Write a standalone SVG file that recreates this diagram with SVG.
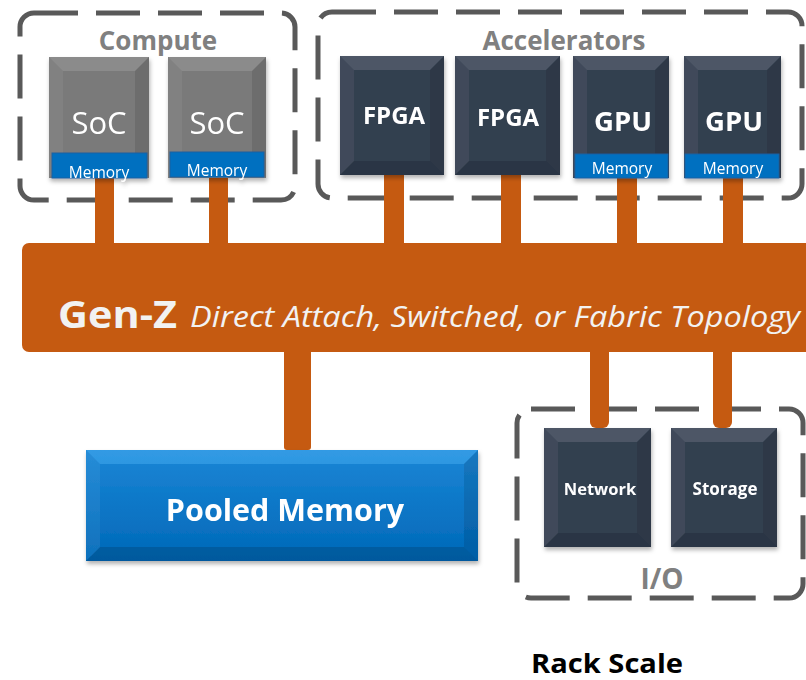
<svg xmlns="http://www.w3.org/2000/svg" width="806" height="680" viewBox="0 0 806 680">
<style>
.box{fill:none;stroke:#595959;stroke-width:5;stroke-dasharray:44 18}
.grp{font-family:"Open Sans","Liberation Sans",sans-serif;font-weight:bold;fill:#808080;text-anchor:middle}
.lbl{font-family:"Open Sans","Liberation Sans",sans-serif;fill:#fff;text-anchor:middle}
.b{font-weight:bold}
.dark{fill:#333f50}
.gray{fill:#7a7a7a}
.mem{fill:#0070c0;stroke:#1f5f9f;stroke-width:1}
.bev-t{fill:#fff;opacity:0.13}
.bev-l{fill:#fff;opacity:0.06}
.bev-r{fill:#000;opacity:0.1}
.bev-b{fill:#000;opacity:0.14}
.wire{fill:#c55a11}
</style>
<defs>
<filter id="sh" x="-10%" y="-10%" width="130%" height="130%">
<feDropShadow dx="1" dy="3" stdDeviation="2" flood-color="#000" flood-opacity="0.3"/>
</filter>
<linearGradient id="pool" x1="0" y1="0" x2="0" y2="1">
<stop offset="0" stop-color="#1a86d6"/>
<stop offset="1" stop-color="#0068b8"/>
</linearGradient>
</defs>

<g id="compute-group">
<rect class="box" x="20" y="13" width="275" height="187" rx="14"/>
<text class="grp" x="158" y="50" font-size="26">Compute</text>
</g>
<g id="accelerators-group">
<rect class="box" x="318" y="12" width="484" height="186" rx="14"/>
<text class="grp" x="564" y="50" font-size="26">Accelerators</text>
</g>
<g id="io-group">
<rect class="box" x="517" y="409" width="286" height="189" rx="14"/>
<text class="grp" x="662" y="589" font-size="28">I/O</text>
</g>

<g id="connectors">
<rect class="wire" x="95" y="170" width="19" height="80"/>
<rect class="wire" x="209" y="170" width="19" height="80"/>
<rect class="wire" x="384" y="169" width="20" height="80" rx="6"/>
<rect class="wire" x="501" y="169" width="20" height="80" rx="6"/>
<rect class="wire" x="617" y="170" width="20" height="80"/>
<rect class="wire" x="723" y="170" width="20" height="80"/>
<rect class="wire" x="284" y="345" width="27" height="105" rx="3"/>
<rect class="wire" x="590" y="345" width="19" height="83" rx="6"/>
<rect class="wire" x="713" y="345" width="19" height="83" rx="6"/>
</g>

<g id="genz-bus">
<rect class="wire" x="22" y="243" width="800" height="109" rx="7"/>
<text x="58" y="328" font-family="'Open Sans','Liberation Sans',sans-serif" fill="#f2f2f2" font-weight="bold" font-size="38" textLength="119" lengthAdjust="spacingAndGlyphs">Gen-Z</text>
<text x="190" y="327" font-family="'Open Sans','Liberation Sans',sans-serif" fill="#f2f2f2" font-style="italic" font-size="30" textLength="610" lengthAdjust="spacingAndGlyphs">Direct Attach, Switched, or Fabric Topology</text>
</g>

<g id="soc1" filter="url(#sh)">
<rect class="gray" x="49" y="57" width="100" height="121"/>
<polygon class="bev-t" points="49,57 149,57 135,71 63,71"/>
<polygon class="bev-l" points="49,57 63,71 63,164 49,178"/>
<polygon class="bev-r" points="149,57 135,71 135,164 149,178"/>
<rect class="mem" x="52" y="153" width="95" height="25"/>
<text class="lbl" x="99" y="134" font-size="31">SoC</text>
<text class="lbl" x="99" y="178" font-size="15.5">Memory</text>
</g>
<g id="soc2" filter="url(#sh)">
<rect class="gray" x="168" y="57" width="98" height="121"/>
<polygon class="bev-t" points="168,57 266,57 252,71 182,71"/>
<polygon class="bev-l" points="168,57 182,71 182,164 168,178"/>
<polygon class="bev-r" points="266,57 252,71 252,164 266,178"/>
<rect class="mem" x="170" y="152" width="94" height="25"/>
<text class="lbl" x="217" y="134" font-size="31">SoC</text>
<text class="lbl" x="217" y="176" font-size="15.5">Memory</text>
</g>

<g id="fpga1" filter="url(#sh)">
<rect class="dark" x="340" y="56" width="104" height="119"/>
<polygon class="bev-t" points="340,56 444,56 430,70 354,70"/>
<polygon class="bev-l" points="340,56 354,70 354,161 340,175"/>
<polygon class="bev-r" points="444,56 430,70 430,161 444,175"/>
<polygon class="bev-b" points="340,175 444,175 430,161 354,161"/>
<text class="lbl b" x="394" y="124" font-size="24">FPGA</text>
</g>
<g id="fpga2" filter="url(#sh)">
<rect class="dark" x="455" y="56" width="105" height="119"/>
<polygon class="bev-t" points="455,56 560,56 546,70 469,70"/>
<polygon class="bev-l" points="455,56 469,70 469,161 455,175"/>
<polygon class="bev-r" points="560,56 546,70 546,161 560,175"/>
<polygon class="bev-b" points="455,175 560,175 546,161 469,161"/>
<text class="lbl b" x="508" y="126" font-size="24">FPGA</text>
</g>
<g id="gpu1" filter="url(#sh)">
<rect class="dark" x="573" y="56" width="96" height="122"/>
<polygon class="bev-t" points="573,56 669,56 655,70 587,70"/>
<polygon class="bev-l" points="573,56 587,70 587,164 573,178"/>
<polygon class="bev-r" points="669,56 655,70 655,164 669,178"/>
<rect class="mem" x="575" y="154" width="93" height="24"/>
<text class="lbl b" x="623" y="131" font-size="27.5">GPU</text>
<text class="lbl" x="622" y="174" font-size="15.5">Memory</text>
</g>
<g id="gpu2" filter="url(#sh)">
<rect class="dark" x="684" y="56" width="97" height="122"/>
<polygon class="bev-t" points="684,56 781,56 767,70 698,70"/>
<polygon class="bev-l" points="684,56 698,70 698,164 684,178"/>
<polygon class="bev-r" points="781,56 767,70 767,164 781,178"/>
<rect class="mem" x="685" y="154" width="94" height="24"/>
<text class="lbl b" x="734" y="131" font-size="27.5">GPU</text>
<text class="lbl" x="733" y="174" font-size="15.5">Memory</text>
</g>

<g id="pooled-memory" filter="url(#sh)">
<rect x="86" y="450" width="392" height="111" fill="url(#pool)"/>
<polygon fill="#5cc0ff" opacity="0.35" points="86,450 478,450 464,464 100,464"/>
<polygon class="bev-l" points="86,450 100,464 100,547 86,561"/>
<polygon class="bev-r" points="478,450 464,464 464,547 478,561"/>
<polygon class="bev-b" points="86,561 478,561 464,547 100,547"/>
<text class="lbl b" x="285" y="521" font-size="30.5">Pooled Memory</text>
</g>

<g id="network" filter="url(#sh)">
<rect class="dark" x="544" y="428" width="107" height="119"/>
<polygon class="bev-t" points="544,428 651,428 637,442 558,442"/>
<polygon class="bev-l" points="544,428 558,442 558,533 544,547"/>
<polygon class="bev-r" points="651,428 637,442 637,533 651,547"/>
<polygon class="bev-b" points="544,547 651,547 637,533 558,533"/>
<text class="lbl b" x="600" y="495" font-size="16.5">Network</text>
</g>
<g id="storage" filter="url(#sh)">
<rect class="dark" x="671" y="428" width="106" height="119"/>
<polygon class="bev-t" points="671,428 777,428 763,442 685,442"/>
<polygon class="bev-l" points="671,428 685,442 685,533 671,547"/>
<polygon class="bev-r" points="777,428 763,442 763,533 777,547"/>
<polygon class="bev-b" points="671,547 777,547 763,533 685,533"/>
<text class="lbl b" x="725" y="495" font-size="17">Storage</text>
</g>

<text id="rack-scale" x="531" y="673" font-family="'Open Sans','Liberation Sans',sans-serif" font-weight="bold" font-size="27" textLength="152" lengthAdjust="spacingAndGlyphs" fill="#000">Rack Scale</text>
</svg>
